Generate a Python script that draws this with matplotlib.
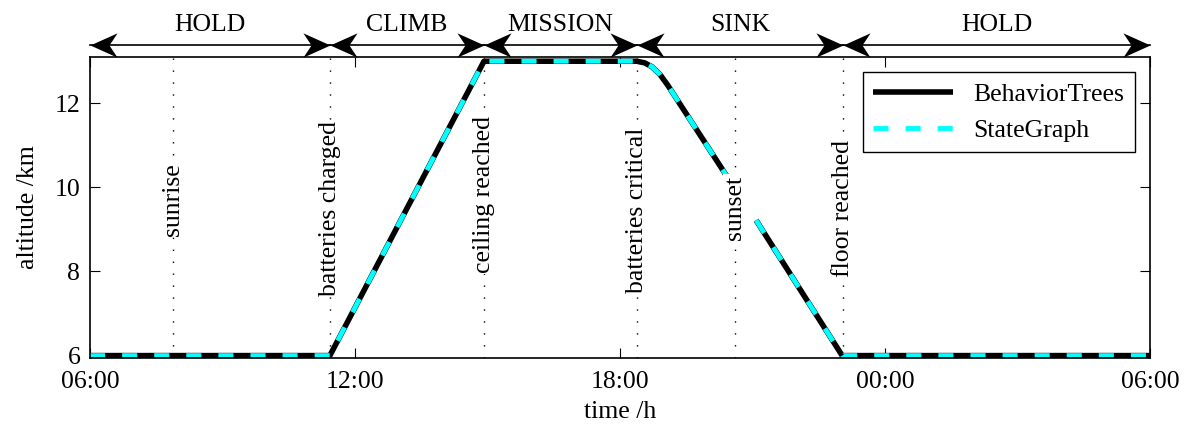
import numpy as np
import matplotlib
matplotlib.use('Agg')
import matplotlib.pyplot as plt
from matplotlib.path import Path

plt.rcParams['font.family'] = ['Liberation Serif', 'DejaVu Serif']
plt.rcParams['font.size'] = 18.5

# time in hours since 06:00
time_h = [0.0, 5.43, 8.92, 12.38, 12.56, 12.72, 12.90, 13.08, 14.44, 14.76, 15.08, 17.03, 24.0]
alt_km = [6.0, 6.0, 13.0, 13.0, 12.96, 12.87, 12.69, 12.43, 10.23, np.nan, 9.22, 6.0, 6.0]

event_names = ['sunrise', 'batteries charged', 'ceiling reached',
               'batteries critical', 'sunset', 'floor reached']
event_times = [1.88, 5.43, 8.92, 12.38, 14.60, 17.05]
event_label_y = [9.71, 9.50, 9.83, 9.45, 9.52, 9.50]

phase_names = ['HOLD', 'CLIMB', 'MISSION', 'SINK', 'HOLD']
phase_bounds = [0.0, 5.43, 8.92, 12.38, 17.05, 24.0]

xtick_pos = [0, 6, 12, 18, 24]
xtick_labels = ['06:00', '12:00', '18:00', '00:00', '06:00']
ytick_pos = [6, 8, 10, 12]

fig = plt.figure(figsize=(11.91, 4.32), dpi=100)
ax = fig.add_subplot(111)
fig.subplots_adjust(left=0.0756, right=0.9656, bottom=0.171, top=0.868)

for t, name, ly in zip(event_times, event_names, event_label_y):
    ax.axvline(t, color='k', lw=1.0, linestyle=(0, (1, 7.6)), zorder=1)
    ax.text(t, ly, name, rotation=90, ha='center', va='center', zorder=3,
            bbox=dict(facecolor='white', edgecolor='none', pad=1))

ax.plot(time_h, alt_km, color='black', lw=4.0, label='BehaviorTrees', zorder=2,
        solid_capstyle='butt')
ax.plot(time_h, alt_km, color='cyan', lw=3.5, linestyle=(0, (3.1, 3.5)),
        label='StateGraph', zorder=2.1)

ax.set_xlim(0, 24)
ax.set_ylim(5.94, 13.1)
ax.set_xticks(xtick_pos)
ax.set_xticklabels(xtick_labels)
ax.set_yticks(ytick_pos)
ax.set_xlabel('time /h', labelpad=6)
ax.set_ylabel('altitude /km', labelpad=11)
ax.tick_params(direction='in', top=True, right=True, length=7, width=0.8)
ax.tick_params(axis='x', pad=9)
ax.tick_params(axis='y', pad=7)
for sp in ax.spines.values():
    sp.set_linewidth(1.2)

leg = ax.legend(loc='upper right', fancybox=False, edgecolor='k', framealpha=1,
                handlelength=3.1, borderaxespad=0.6)
leg.get_frame().set_linewidth(1.0)

# phase arrows above the axes
trans = ax.get_xaxis_transform()
head_r = Path([(0, 0), (-1, 0.45), (-0.7, 0), (-1, -0.45), (0, 0)],
              [Path.MOVETO, Path.LINETO, Path.LINETO, Path.LINETO, Path.CLOSEPOLY])
head_l = Path([(0, 0), (1, 0.45), (0.7, 0), (1, -0.45), (0, 0)],
              [Path.MOVETO, Path.LINETO, Path.LINETO, Path.LINETO, Path.CLOSEPOLY])
ya = 1.04
for name, x0, x1 in zip(phase_names, phase_bounds[:-1], phase_bounds[1:]):
    ax.plot([x0, x1], [ya, ya], color='k', lw=1.2, transform=trans, clip_on=False)
    ax.plot([x0], [ya], marker=head_l, ms=39, mfc='k', mec='k', mew=0,
            linestyle='none', transform=trans, clip_on=False)
    ax.plot([x1], [ya], marker=head_r, ms=39, mfc='k', mec='k', mew=0,
            linestyle='none', transform=trans, clip_on=False)
    ax.text((x0 + x1) / 2, 1.105, name, ha='center', va='center', transform=trans)

fig.savefig('out.png', dpi=100)
